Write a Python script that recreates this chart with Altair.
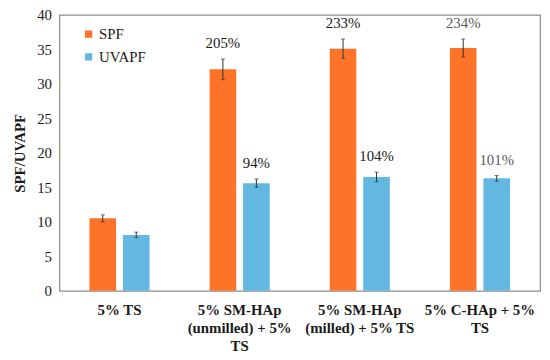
import altair as alt
import pandas as pd

categories = ["5% TS", "5% SM-HAp (unmilled) + 5% TS", "5% SM-HAp (milled) + 5% TS", "5% C-HAp + 5% TS"]
label_lines = [["5% TS"], ["5% SM-HAp", "(unmilled) + 5%", "TS"], ["5% SM-HAp", "(milled) + 5% TS"], ["5% C-HAp + 5%", "TS"]]
series = ["SPF", "UVAPF"]
spf = [10.5, 32.1, 35.1, 35.2]
spf_err = [0.5, 1.5, 1.4, 1.3]
uvapf = [8.1, 15.6, 16.5, 16.3]
uvapf_err = [0.4, 0.6, 0.7, 0.4]
spf_labels = ["", "205%", "233%", "234%"]
uvapf_labels = ["", "94%", "104%", "101%"]

rows = []
for i, c in enumerate(categories):
    rows.append({"cat": c, "series": "SPF", "value": spf[i], "lo": spf[i] - spf_err[i], "hi": spf[i] + spf_err[i], "label": spf_labels[i], "idx": i})
    rows.append({"cat": c, "series": "UVAPF", "value": uvapf[i], "lo": uvapf[i] - uvapf_err[i], "hi": uvapf[i] + uvapf_err[i], "label": uvapf_labels[i], "idx": i})
df = pd.DataFrame(rows)

expr = ""
for c, lines in zip(categories, label_lines):
    arr = "[" + ",".join("'" + l + "'" for l in lines) + "]"
    expr += f"datum.value == '{c}' ? {arr} : "
expr += "datum.label"

FONT = "Liberation Serif"
colors = ["#FD7428", "#63B8E2"]

xaxis = alt.Axis(labelExpr=expr, labelAngle=0, labelFont=FONT, labelFontSize=15,
                 labelFontWeight="bold", labelColor="#1a1a1a", labelLineHeight=18,
                 labelPadding=12, ticks=False, domain=False, labelBaseline="top")
xscale = alt.Scale(paddingInner=0.5, paddingOuter=0.25)
yaxis = alt.Axis(values=list(range(0, 41, 5)), grid=False, domain=False, ticks=False,
                 labelOverlap=False, title="SPF/UVAPF",
                 labelFont=FONT, labelFontSize=15, labelColor="#1a1a1a", labelPadding=8,
                 titleFont=FONT, titleFontSize=15, titleFontWeight="bold", titleColor="#1a1a1a",
                 titlePadding=9)
yscale = alt.Scale(domain=[0, 40], nice=False)

def X():
    return alt.X("cat:N", sort=categories, title=None, scale=xscale, axis=xaxis)

def Y(field):
    return alt.Y(field, title="SPF/UVAPF", scale=yscale, axis=yaxis)

xo = alt.XOffset("series:N", sort=series, scale=alt.Scale(paddingInner=0.206, paddingOuter=0))

base = alt.Chart(df)
bars = base.mark_bar().encode(
    x=X(), xOffset=xo, y=Y("value:Q"),
    color=alt.Color("series:N", sort=series, scale=alt.Scale(domain=series, range=colors),
                    legend=alt.Legend(title=None, orient="none", legendX=22, legendY=12,
                                      symbolType="square", symbolSize=55, labelFont=FONT,
                                      labelFontSize=15, labelColor="#1a1a1a", rowPadding=7,
                                      symbolStrokeWidth=0, labelOffset=3)))
err = base.mark_rule(color="#333333", strokeWidth=1).encode(
    x=X(), xOffset=xo, y=Y("lo:Q"), y2="hi:Q")
cap_lo = base.mark_tick(color="#333333", size=4, thickness=1).encode(
    x=X(), xOffset=xo, y=Y("lo:Q"))
cap_hi = base.mark_tick(color="#333333", size=4, thickness=1).encode(
    x=X(), xOffset=xo, y=Y("hi:Q"))
text = base.mark_text(font=FONT, fontSize=15, baseline="bottom", dy=-8).encode(
    x=X(), xOffset=xo, y=Y("hi:Q"), text="label:N",
    color=alt.condition("datum.idx == 3", alt.value("#595959"), alt.value("#1a1a1a")))

chart = alt.layer(bars, err, cap_lo, cap_hi, text).properties(
    width=486, height=279,
    autosize=alt.AutoSizeParams(type="none"),
    padding={"left": 52, "top": 5, "right": 2, "bottom": 62},
).configure(background="white", font=FONT).configure_view(stroke="#8c8c8c", strokeWidth=1.2).configure_axis(
    labelFont=FONT, titleFont=FONT).configure_legend(labelFont=FONT)

chart.save("out.html", embed_options={"renderer": "svg", "actions": False})
